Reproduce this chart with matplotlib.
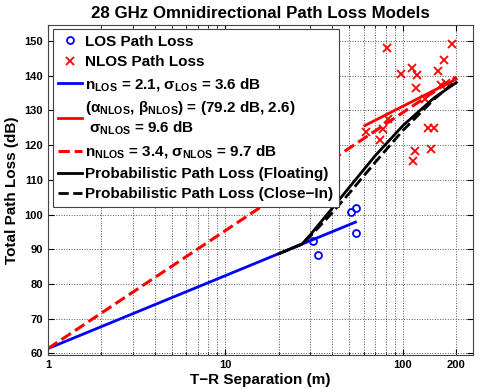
import matplotlib
matplotlib.use("Agg")
import matplotlib.pyplot as plt
from matplotlib.ticker import FixedLocator, NullFormatter

plt.rcParams["font.family"] = ["Liberation Sans", "DejaVu Sans"]
plt.rcParams["font.weight"] = "bold"
plt.rcParams["mathtext.fontset"] = "custom"
plt.rcParams["mathtext.rm"] = "Liberation Sans:bold"
plt.rcParams["mathtext.bf"] = "Liberation Sans:bold"
plt.rcParams["mathtext.default"] = "bf"

# measured points
los_d = [31.1, 33.2, 51.3, 54.2, 54.2]
los_pl = [92.3, 88.4, 100.6, 102.0, 94.6]

nlos_d = [81.9, 189.2, 112.9, 97.1, 120.0, 157.0, 169.8, 118.4, 163.3, 175.7,
          133.6, 82.6, 61.8, 76.8, 74.1, 139.0, 150.3, 117.3, 114.3, 144.0]
nlos_pl = [148.0, 149.2, 142.3, 140.4, 140.1, 141.3, 144.4, 136.4, 137.3, 137.8,
           133.2, 127.6, 123.9, 124.6, 121.5, 124.9, 124.9, 118.3, 115.5, 119.0]

# model lines
los_fit_d = [1, 54]
los_fit_pl = [61.4, 97.8]
nlos_fi_d = [61, 200]
nlos_fi_pl = [125.6, 139.0]
nlos_ci_d = [1, 200]
nlos_ci_pl = [61.4, 139.6]

prob_d = [20, 27, 30, 40, 50, 70, 100, 150, 200]
prob_fi_pl = [88.7, 91.5, 94.1, 101.8, 107.9, 117.0, 125.6, 133.6, 138.0]
prob_ci_pl = [88.7, 91.5, 93.7, 100.5, 106.2, 115.1, 124.2, 133.2, 138.6]

fig = plt.figure(figsize=(4.85, 3.89), dpi=100)
ax = fig.add_axes([0.099, 0.087, 0.876, 0.849])

ax.semilogx(los_d, los_pl, "o", color="blue", mfc="none", ms=5, mew=1.3,
            label="LOS Path Loss")
ax.semilogx(nlos_d, nlos_pl, "x", color="red", ms=6, mew=1.3,
            label="NLOS Path Loss")
ax.semilogx(los_fit_d, los_fit_pl, "-", color="blue", lw=2,
            label=r"$n_{LOS}$ = 2.1, $\sigma_{LOS}$ = 3.6 dB")
ax.semilogx(nlos_fi_d, nlos_fi_pl, "-", color="red", lw=2,
            label="($\\alpha_{NLOS}$, $\\beta_{NLOS}$) = (79.2 dB, 2.6)\n $\\sigma_{NLOS}$ = 9.6 dB")
ax.semilogx(nlos_ci_d, nlos_ci_pl, "--", color="red", lw=2.2,
            label=r"$n_{NLOS}$ = 3.4, $\sigma_{NLOS}$ = 9.7 dB")
ax.semilogx(prob_d, prob_fi_pl, "-", color="black", lw=2,
            label="Probabilistic Path Loss (Floating)")
ax.semilogx(prob_d, prob_ci_pl, "--", color="black", lw=2,
            label="Probabilistic Path Loss (Close\u2212In)")

ax.set_xlim(1, 248)
ax.set_ylim(59.5, 154.6)
ax.xaxis.set_major_locator(FixedLocator([1, 10, 100, 200]))
ax.xaxis.set_major_formatter(matplotlib.ticker.FixedFormatter(["1", "10", "100", "200"]))
ax.xaxis.set_minor_locator(FixedLocator([2, 3, 4, 5, 6, 7, 8, 9, 20, 30, 40, 50, 60, 70, 80, 90]))
ax.xaxis.set_minor_formatter(NullFormatter())
ax.set_yticks(range(60, 151, 10))
ax.tick_params(which="both", direction="in", top=True, right=True, labelsize=8)
ax.tick_params(which="major", length=4)
ax.tick_params(which="minor", length=2)
for lbl in ax.get_xticklabels() + ax.get_yticklabels():
    lbl.set_fontweight("bold")
ax.grid(True, which="both", axis="x", ls=":", color="#555555", lw=0.7)
ax.grid(True, which="major", axis="y", ls=":", color="#555555", lw=0.7)
for s in ax.spines.values():
    s.set_color("#444444")

ax.set_title("28 GHz Omnidirectional Path Loss Models", fontsize=12.2,
             fontweight="bold", pad=5)
ax.set_xlabel("T\u2212R Separation (m)", fontsize=11, fontweight="bold", labelpad=2)
ax.set_ylabel("Total Path Loss (dB)", fontsize=11, fontweight="bold", labelpad=4)

leg = ax.legend(loc="upper left", fontsize=11, handlelength=1.6, handletextpad=0.2,
                labelspacing=0.42, borderpad=0.35, borderaxespad=0.3,
                fancybox=False, framealpha=1, edgecolor="#444444")
leg.get_frame().set_linewidth(0.8)

fig.savefig("out.png", dpi=100)
